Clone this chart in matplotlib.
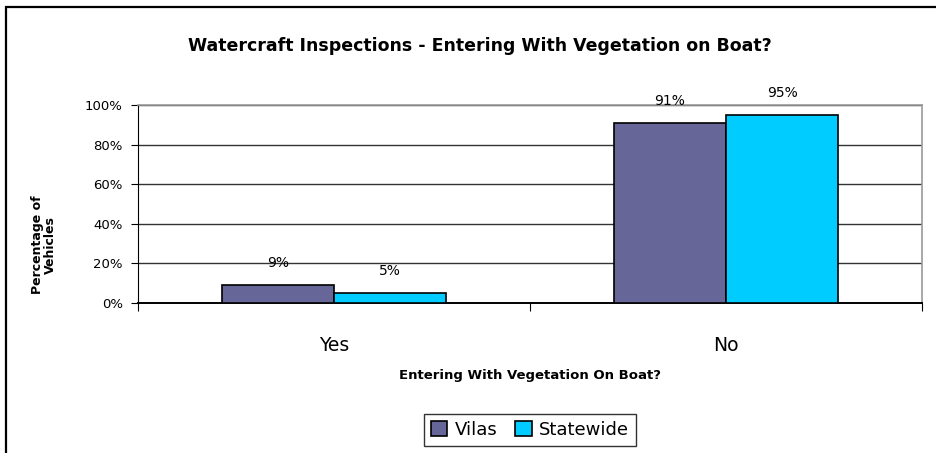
import numpy as np
import matplotlib
matplotlib.use("Agg")
import matplotlib.pyplot as plt
from matplotlib.patches import Rectangle
from matplotlib.ticker import PercentFormatter

categories = ["Yes", "No"]
series_names = ["Vilas", "Statewide"]
vilas = [9, 91]
statewide = [5, 95]
colors = ["#666699", "#00CCFF"]
y_ticks = [0, 20, 40, 60, 80, 100]

plt.rcParams["font.family"] = ["DejaVu Sans"]

fig = plt.figure(figsize=(9.37, 4.53), dpi=100)
ax = fig.add_axes([138 / 937, 1 - 303 / 453, (922 - 138) / 937, (303 - 105) / 453])

# outer chart border (left and top only are visible in the reference)
fig.patches.append(Rectangle((6 / 937, -0.1), 1.2, 1 - 7 / 453 + 0.1,
                             transform=fig.transFigure, fill=False,
                             edgecolor="black", linewidth=1.6))

x = np.arange(len(categories))
w = 0.286
for i, (vals, c) in enumerate(zip([vilas, statewide], colors)):
    b = ax.bar(x + (i - 0.5) * w, vals, w, color=c, edgecolor="black",
               linewidth=1.2, label=series_names[i], zorder=3)
    ax.bar_label(b, labels=[f"{v}%" for v in vals], padding=11, fontsize=10)

ax.set_xlim(-0.5, 1.5)
ax.set_ylim(0, 100)
ax.set_yticks(y_ticks)
ax.yaxis.set_major_formatter(PercentFormatter(decimals=0))
ax.tick_params(axis="y", labelsize=9.5, length=5, direction="out", pad=6)
ax.grid(axis="y", color="#333333", linewidth=1, zorder=0)

# category separators as ticks, labels at centers
ax.set_xticks([-0.5, 0.5, 1.5])
ax.set_xticklabels([])
ax.set_xticks(x, minor=True)
ax.set_xticklabels(categories, minor=True, fontsize=13.5)
ax.tick_params(axis="x", which="major", length=6, direction="out")
ax.tick_params(axis="x", which="minor", length=0, pad=24)

for s in ["top", "right"]:
    ax.spines[s].set_color("#999999")
    ax.spines[s].set_linewidth(1.2)
ax.spines["left"].set_color("black")
ax.spines["bottom"].set_color("black")
ax.spines["bottom"].set_linewidth(1.4)

fig.text(480 / 937, 1 - 46 / 453, "Watercraft Inspections - Entering With Vegetation on Boat?",
         ha="center", va="center", fontsize=12.5, fontweight="bold")
fig.text(530 / 937, 1 - 376 / 453, "Entering With Vegetation On Boat?",
         ha="center", va="center", fontsize=9.5, fontweight="bold")
fig.text(44 / 937, 1 - 245 / 453, "Percentage of\nVehicles", rotation=90,
         ha="center", va="center", fontsize=9, fontweight="bold", linespacing=0.95)

leg = fig.legend(loc="center", bbox_to_anchor=(530 / 937, 1 - 430 / 453), ncol=2,
                 fontsize=13, frameon=True, fancybox=False, edgecolor="black",
                 handlelength=0.9, handleheight=0.9, handletextpad=0.4,
                 columnspacing=1.0, borderpad=0.4)
leg.get_frame().set_linewidth(1)

fig.savefig("out.png", dpi=100)
